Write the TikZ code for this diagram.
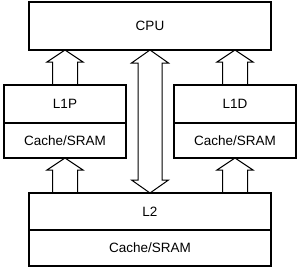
\documentclass[tikz,border=0pt]{standalone}
\usepackage{fontspec}
\setmainfont{Liberation Sans}
\usetikzlibrary{calc}
\newcommand\blkuparrow[2]{%
  \draw[arrowline] ($(#1)+(-12.5,0)$) -- ($(#2)+(-12.5,12)$) -- ($(#2)+(-18,12)$) -- (#2)
    -- ($(#2)+(18,12)$) -- ($(#2)+(12.5,12)$) -- ($(#1)+(12.5,0)$);}
\begin{document}
\begin{tikzpicture}[x=1pt,y=-1pt,
  every node/.style={font=\fontsize{13.5}{15}\selectfont, inner sep=0pt, outer sep=0pt},
  part/.style={draw, line width=1.2pt, minimum width=#1},
  outer/.style={draw, line width=2pt},
  arrowline/.style={draw, line width=1pt, line join=miter}]
\fill[white] (0,0) rectangle (300,271);
\useasboundingbox (0,0) rectangle (300,271);
% CPU
\node[outer, minimum width=242pt, minimum height=48pt] (cpu) at (150,26) {CPU};
% L1P
\node[part=122pt, minimum height=38pt] (l1pt) at (65,104) {L1P};
\node[part=122pt, minimum height=35pt, anchor=north] (l1pb) at (l1pt.south) {Cache/SRAM};
\draw[outer] (l1pt.north west) rectangle (l1pb.south east);
% L1D
\node[part=122pt, minimum height=38pt] (l1dt) at (235,104) {L1D};
\node[part=122pt, minimum height=35pt, anchor=north] (l1db) at (l1dt.south) {Cache/SRAM};
\draw[outer] (l1dt.north west) rectangle (l1db.south east);
% L2
\node[part=242pt, minimum height=37pt] (l2t) at (150,211.5) {L2};
\node[part=242pt, minimum height=36pt, anchor=north] (l2b) at (l2t.south) {Cache/SRAM};
\draw[outer] (l2t.north west) rectangle (l2b.south east);
% arrows
\coordinate (a1tip) at (l1pt.north |- cpu.south);
\blkuparrow{l1pt.north}{a1tip}
\coordinate (a2tip) at (l1dt.north |- cpu.south);
\blkuparrow{l1dt.north}{a2tip}
\coordinate (a3tail) at (l1pb.south |- l2t.north);
\blkuparrow{a3tail}{l1pb.south}
\coordinate (a4tail) at (l1db.south |- l2t.north);
\blkuparrow{a4tail}{l1db.south}
% double arrow
\draw[arrowline] (cpu.south) -- ($(cpu.south)+(18.5,13)$) -- ($(cpu.south)+(12,13)$)
  -- ($(l2t.north)+(12,-13)$) -- ($(l2t.north)+(18.5,-13)$) -- (l2t.north)
  -- ($(l2t.north)+(-18.5,-13)$) -- ($(l2t.north)+(-12,-13)$)
  -- ($(cpu.south)+(-12,13)$) -- ($(cpu.south)+(-18.5,13)$) -- cycle;
\end{tikzpicture}
\end{document}
